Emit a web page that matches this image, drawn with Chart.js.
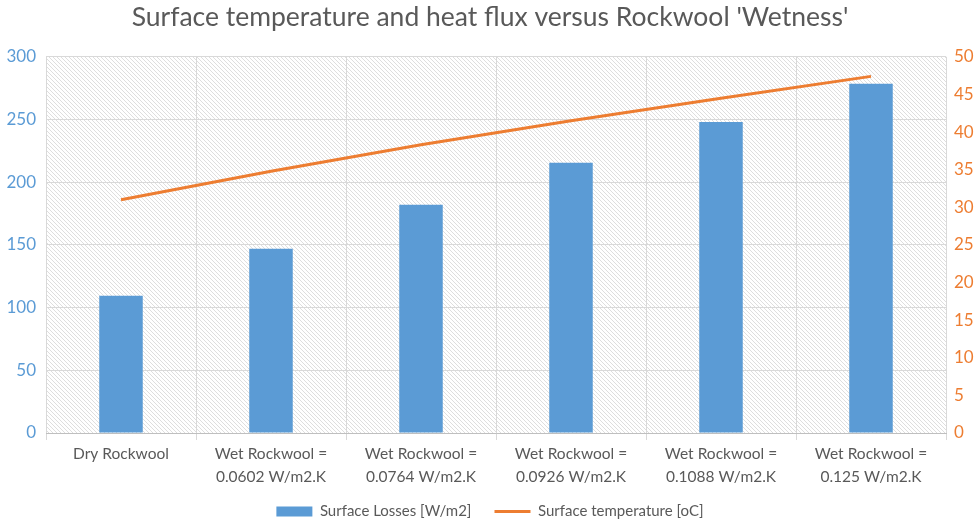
<!DOCTYPE html>
<html>
<head>
<meta charset="utf-8">
<script src="https://cdn.jsdelivr.net/npm/chart.js@4/dist/chart.umd.min.js"></script>
<style>
  html,body{margin:0;padding:0;background:#fff;}
  #wrap{width:980px;height:520px;}
</style>
</head>
<body>
<div id="wrap"><canvas id="chart"></canvas></div>
<script>
const categories = [
  "Dry Rockwool",
  ["Wet Rockwool =", "0.0602 W/m2.K"],
  ["Wet Rockwool =", "0.0764 W/m2.K"],
  ["Wet Rockwool =", "0.0926 W/m2.K"],
  ["Wet Rockwool =", "0.1088 W/m2.K"],
  ["Wet Rockwool =", "0.125 W/m2.K"]
];
const surfaceLosses = [109.5, 147, 182, 215.5, 248, 278.5];
const surfaceTemp = [31.0, 34.8, 38.3, 41.5, 44.5, 47.4];

const FONT = "Lato, 'Open Sans', sans-serif";
const GREY = "#595959", BLUE = "#5b9bd5", ORANGE = "#ed7d31";

function hatch(){
  const c = document.createElement('canvas'); c.width = 8; c.height = 8;
  const g = c.getContext('2d');
  g.fillStyle = "#fff"; g.fillRect(0,0,8,8);
  g.strokeStyle = "#dedede"; g.lineWidth = 1;
  for(let k=-8;k<=8;k+=4){ g.beginPath(); g.moveTo(k,0); g.lineTo(k+8,8); g.stroke(); }
  return c;
}

const bgPlugin = {
  id:'hatchBg',
  afterLayout(chart){
    // push the legend a little lower, closer to the bottom edge
    if(chart.legend){ chart.legend.top += 9; chart.legend.bottom += 9; }
  },
  beforeDraw(chart){
    const {ctx, chartArea:a} = chart;
    ctx.save();
    ctx.fillStyle = ctx.createPattern(hatch(),'repeat');
    ctx.fillRect(a.left,a.top,a.right-a.left,a.bottom-a.top);
    ctx.restore();
  }
};

// legend items: keep dataset order, widen the gap after the first entry
function legendItems(chart){
  const items = Chart.defaults.plugins.legend.labels.generateLabels(chart)
    .sort((a,b)=>a.datasetIndex-b.datasetIndex);
  items.forEach(it=>{ if(it.datasetIndex===0){ it.lineWidth = 0; it.text += '      '; } });
  return items;
}

new Chart(document.getElementById('chart'),{
  data:{
    labels:categories,
    datasets:[
      {type:'bar',label:'Surface Losses [W/m2]',data:surfaceLosses,backgroundColor:BLUE,yAxisID:'y',
       barPercentage:0.29,categoryPercentage:1,order:1,pointStyle:'rect',borderWidth:0},
      {type:'line',label:'Surface temperature [oC]',data:surfaceTemp,borderColor:ORANGE,backgroundColor:ORANGE,
       borderWidth:3,pointRadius:0,yAxisID:'y1',order:0,pointStyle:'line',tension:0}
    ]
  },
  options:{
    responsive:true,maintainAspectRatio:false,animation:false,
    layout:{padding:0},
    plugins:{
      title:{display:true,text:"Surface temperature and heat flux versus Rockwool 'Wetness'",
        color:GREY,font:{family:FONT,size:26.5,weight:'normal'},padding:{top:2,bottom:23}},
      legend:{position:'bottom',
        labels:{usePointStyle:true,pointStyleWidth:36,boxHeight:10,color:GREY,padding:0,
          font:{family:FONT,size:15},generateLabels:legendItems}},
      tooltip:{enabled:false}
    },
    scales:{
      x:{grid:{color:"#d9d9d9",offset:true,tickLength:7,tickColor:"#d9d9d9"},border:{color:"#bfbfbf"},
        ticks:{color:GREY,font:{family:FONT,size:15.5,lineHeight:1.45},maxRotation:0,autoSkip:false,padding:3},
        afterFit(s){ s.height = 62; }},
      y:{position:'left',min:0,max:300,ticks:{stepSize:50,color:BLUE,font:{family:FONT,size:17},padding:10},
        grid:{color:"#d9d9d9",drawTicks:false},border:{display:false},
        afterFit(s){ s.width = 46; }},
      y1:{position:'right',min:0,max:50,ticks:{stepSize:5,color:ORANGE,font:{family:FONT,size:17},padding:8},
        grid:{display:false,drawTicks:false},border:{display:false},
        afterFit(s){ s.width = 34; }}
    }
  },
  plugins:[bgPlugin]
});
</script>
</body>
</html>
